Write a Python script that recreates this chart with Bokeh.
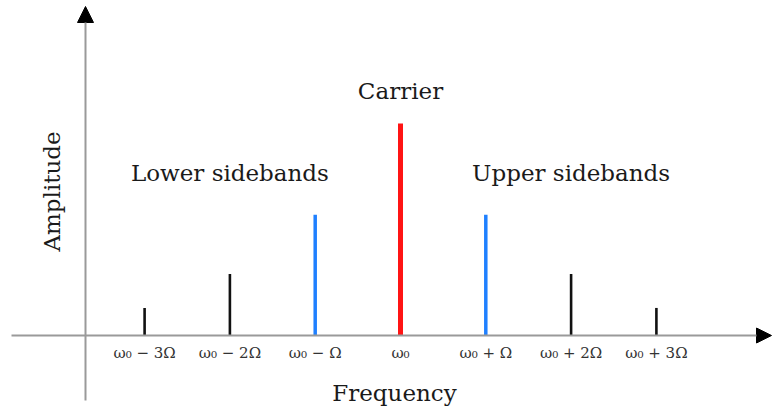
import numpy as np
from bokeh.plotting import figure
from bokeh.models import ColumnDataSource, Range1d, Arrow, NormalHead
from bokeh.core.properties import value
from bokeh.embed import file_html
from bokeh.resources import INLINE

# ---- data ----
offsets = [-3, -2, -1, 0, 1, 2, 3]          # frequency offset in units of Omega from omega_0
amplitudes = [0.13, 0.29, 0.57, 1.0, 0.57, 0.29, 0.13]
tick_labels = ["ω₀ − 3Ω", "ω₀ − 2Ω", "ω₀ − Ω", "ω₀", "ω₀ + Ω", "ω₀ + 2Ω", "ω₀ + 3Ω"]
group_labels = ["Lower sidebands", "Carrier", "Upper sidebands"]
group_pos = [-2, 0, 2]
x_title = "Frequency"
y_title = "Amplitude"

# ---- styles ----
def style_for(k):
    if k == 0:
        return "#ff1414", 5
    if abs(k) == 1:
        return "#1f80ff", 3.5
    return "#111111", 2.6

colors = [style_for(k)[0] for k in offsets]
widths = [style_for(k)[1] for k in offsets]

W, H = 772, 409
px_x = 85.3      # pixels per Omega
px_y = 212.0     # pixels per amplitude unit
cx, cy = 400, 335

p = figure(width=W, height=H, output_backend="svg", toolbar_location=None,
           min_border=0, x_axis_type=None, y_axis_type=None)
p.x_range = Range1d(-cx / px_x, (W - cx) / px_x)
p.y_range = Range1d(-(H - cy) / px_y, cy / px_y)
p.outline_line_color = None
p.xgrid.visible = False
p.ygrid.visible = False
p.background_fill_color = "white"
p.border_fill_color = "white"

axis_color = "#9a9a9a"
x_left = (11 - cx) / px_x
x_tip = (771 - cx) / px_x
y_axis_x = (85 - cx) / px_x
y_bottom = -(400 - cy) / px_y
y_tip = (cy - 6) / px_y

p.add_layout(Arrow(x_start=x_left, y_start=0, x_end=x_tip, y_end=0,
                   line_color=axis_color, line_width=2,
                   end=NormalHead(size=15, fill_color="black", line_color="black", line_width=1)))
p.add_layout(Arrow(x_start=y_axis_x, y_start=y_bottom, x_end=y_axis_x, y_end=y_tip,
                   line_color=axis_color, line_width=2,
                   end=NormalHead(size=16, fill_color="black", line_color="black", line_width=1)))

src = ColumnDataSource(dict(x=offsets, y0=[0] * len(offsets), y1=amplitudes,
                            color=colors, w=widths, label=tick_labels))
p.segment(x0="x", y0="y0", x1="x", y1="y1", source=src,
          line_color="color", line_width="w", line_cap="butt")

font = value("DejaVu Serif")
# tick labels
p.text(x="x", y=-(352 - cy) / px_y, text="label", source=src, text_font=font,
       text_font_size="15px", text_color="#333333",
       text_align="center", text_baseline="middle")

# group labels
gsrc = ColumnDataSource(dict(x=group_pos, y=[(cy - 172) / px_y, (cy - 90) / px_y, (cy - 172) / px_y],
                             t=group_labels))
p.text(x="x", y="y", text="t", source=gsrc, text_font=font, text_font_size="23px",
       text_color="#1a1a1a", text_align="center", text_baseline="middle")

# axis titles
p.text(x=[(394 - cx) / px_x], y=[-(392 - cy) / px_y], text=[x_title], text_font=font,
       text_font_size="23px", text_color="#1a1a1a", text_align="center",
       text_baseline="middle")
p.text(x=[(51 - cx) / px_x], y=[(cy - 191) / px_y], text=[y_title], text_font=font,
       text_font_size="23px", text_color="#1a1a1a", text_align="center",
       text_baseline="middle", angle=np.pi / 2)

open("out.html", "w").write(file_html(p, INLINE))
